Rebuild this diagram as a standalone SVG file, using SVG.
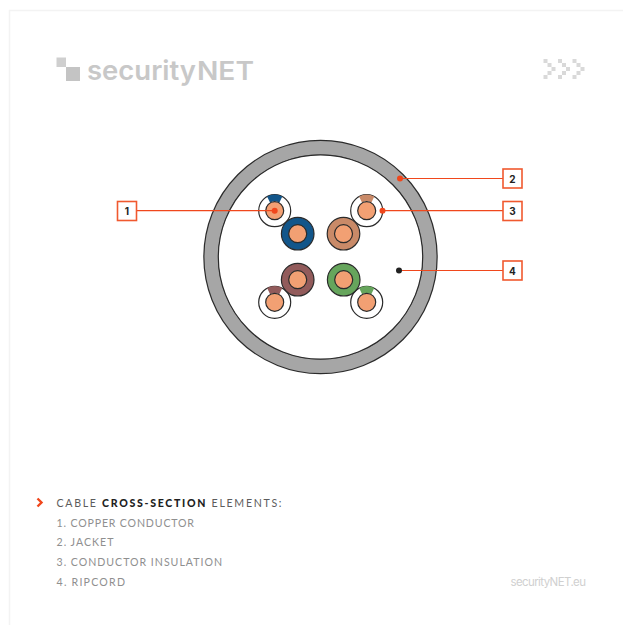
<svg xmlns="http://www.w3.org/2000/svg" width="623" height="625" viewBox="0 0 623 625">
<defs>
<style>
text{font-family:"Lato","Noto Sans",sans-serif}
.cu{fill:#f2a073;stroke:#2b2b2b;stroke-width:1.2}
.wh{fill:#fff;stroke:#2b2b2b;stroke-width:1.2}
.lead{stroke:#f0471c;stroke-width:1.2;fill:none}
.dot{fill:#f0471c}
.box{fill:#fff;stroke:#f0592f;stroke-width:1.6}
.num{font-family:"Inter",sans-serif;font-size:10px;font-weight:700;fill:#222;text-anchor:middle}
.leg{font-size:10.6px;fill:#8f8f8f}
.px{fill:#d9d9d9}
</style>
<path id="wedge" d="M-7.6-14.2A16 16 0 0 1 7.6-14.2L4.6-8A9 9 0 0 0-4.6-8Z"/>
<g id="chev"><rect class="px" x="0" y="0" width="4" height="4"/><rect class="px" x="4" y="4" width="4" height="4"/><rect class="px" x="8" y="8" width="4" height="4"/><rect class="px" x="4" y="12" width="4" height="4"/><rect class="px" x="0" y="16" width="4" height="4"/></g>
</defs>
<rect width="623" height="625" fill="#fff"/>
<path d="M9.500 625V10.500H623" fill="none" stroke="#f3f3f3" stroke-width="1.500"/>
<g id="logo">
<rect x="56.500" y="57.500" width="9.500" height="9.500" fill="#cfcfcf"/>
<rect x="66" y="67" width="14" height="14" fill="#c4c4c4"/>
<text y="80" font-weight="600" fill="#c8c8c8" style="font-family:Inter,sans-serif"><tspan x="87" font-size="27" textLength="109" lengthAdjust="spacingAndGlyphs">security</tspan><tspan x="197" font-size="25" textLength="57" lengthAdjust="spacingAndGlyphs">NET</tspan></text>
</g>
<g id="chevrons">
<use href="#chev" x="543.500" y="59"/><use href="#chev" x="558" y="59"/><use href="#chev" x="572.500" y="59"/>
</g>
<g id="jacket">
<circle cx="320.500" cy="257" r="109.250" fill="none" stroke="#2b2b2b" stroke-width="16"/>
<circle cx="320.500" cy="257" r="109.250" fill="none" stroke="#a6a6a6" stroke-width="13.600"/>
<circle cx="320.500" cy="257" r="102.200" fill="#fff" stroke="#2b2b2b" stroke-width="1.200"/>
</g>
<g id="pair-blue">
<circle class="wh" cx="274.700" cy="210.700" r="16"/><use href="#wedge" x="274.700" y="210.700" fill="#12568a"/><circle class="cu" cx="274.700" cy="210.700" r="9"/>
<circle cx="297.700" cy="233.700" r="16.300" fill="#12568a" stroke="#2b2b2b" stroke-width="1.200"/><circle class="cu" cx="297.700" cy="233.700" r="9"/>
</g>
<g id="pair-orange">
<circle class="wh" cx="366.700" cy="210.700" r="16"/><use href="#wedge" x="366.700" y="210.700" fill="#c98a68"/><circle class="cu" cx="366.700" cy="210.700" r="9"/>
<circle cx="343.500" cy="233.700" r="16.300" fill="#c98a68" stroke="#2b2b2b" stroke-width="1.200"/><circle class="cu" cx="343.500" cy="233.700" r="9"/>
</g>
<g id="pair-brown">
<circle class="wh" cx="274.700" cy="302.300" r="16"/><use href="#wedge" x="274.700" y="302.300" fill="#925b5b"/><circle class="cu" cx="274.700" cy="302.300" r="9"/>
<circle cx="297.700" cy="279.700" r="16.300" fill="#925b5b" stroke="#2b2b2b" stroke-width="1.200"/><circle class="cu" cx="297.700" cy="279.700" r="9"/>
</g>
<g id="pair-green">
<circle class="wh" cx="366.700" cy="302.300" r="16"/><use href="#wedge" x="366.700" y="302.300" fill="#66a55c"/><circle class="cu" cx="366.700" cy="302.300" r="9"/>
<circle cx="343.700" cy="279.700" r="16.300" fill="#66a55c" stroke="#2b2b2b" stroke-width="1.200"/><circle class="cu" cx="343.700" cy="279.700" r="9"/>
</g>
<g id="connectors">
<path class="lead" d="M136 210.700H274.700"/><circle class="dot" cx="274.700" cy="210.700" r="3"/>
<path class="lead" d="M400 178.500H503"/><circle class="dot" cx="400" cy="178.500" r="3"/>
<path class="lead" d="M382.500 210.700H503"/><circle class="dot" cx="382.500" cy="210.700" r="3"/>
<path class="lead" d="M399 270.500H503"/><circle cx="399" cy="270.500" r="3" fill="#222"/>
</g>
<g id="label-1"><rect class="box" x="117.500" y="201.500" width="19" height="19"/><text class="num" x="127" y="215">1</text></g>
<g id="label-2"><rect class="box" x="503" y="169" width="19" height="19"/><text class="num" x="512.500" y="182.500">2</text></g>
<g id="label-3"><rect class="box" x="503" y="201.500" width="19" height="19"/><text class="num" x="512.500" y="215">3</text></g>
<g id="label-4"><rect class="box" x="503" y="261" width="19" height="19"/><text class="num" x="512.500" y="274.500">4</text></g>
<g id="legend">
<path d="M37.500 498.500L41.500 502.500L37.500 506.500" fill="none" stroke="#f0471c" stroke-width="2.400"/>
<text class="leg" x="56.500" y="507" style="fill:#5c5c5c" textLength="225">CABLE <tspan font-weight="900" style="fill:#1f1f1f">CROSS-SECTION</tspan> ELEMENTS:</text>
<text class="leg" x="56.500" y="526.500" textLength="137.500">1. COPPER CONDUCTOR</text>
<text class="leg" x="56.500" y="546" textLength="57">2. JACKET</text>
<text class="leg" x="56.500" y="566" textLength="165.500">3. CONDUCTOR INSULATION</text>
<text class="leg" x="56.500" y="585.500" textLength="68.500">4. RIPCORD</text>
<text x="510.500" y="586" font-size="11.500" fill="#d0d0d0" style="font-family:Inter,sans-serif" textLength="75.500">securityNET.eu</text>
</g>
</svg>
